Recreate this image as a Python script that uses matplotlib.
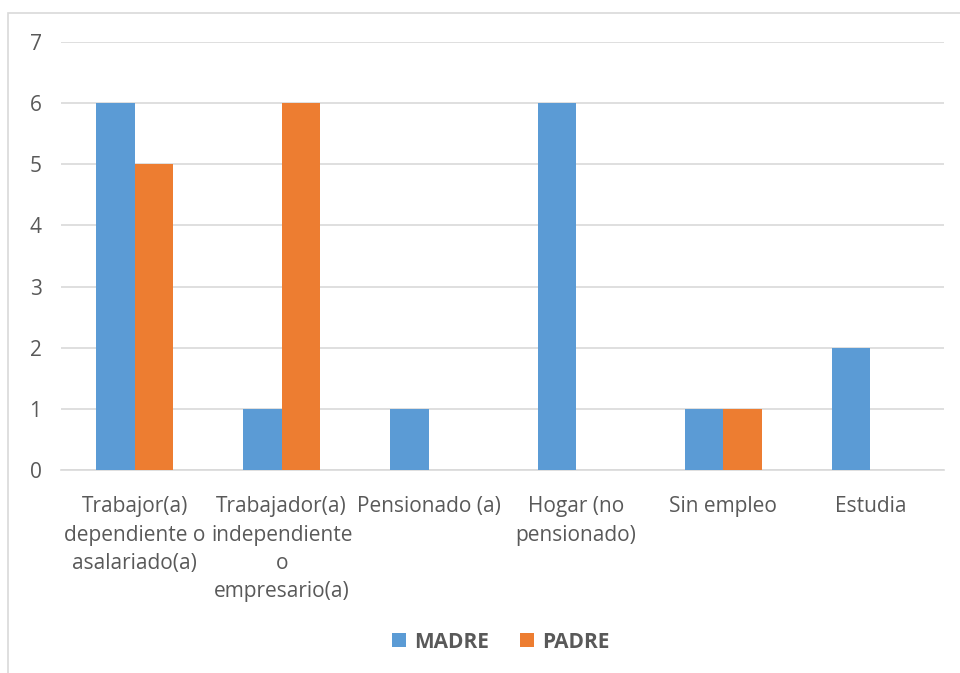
import numpy as np
import matplotlib.pyplot as plt
from matplotlib.patches import Rectangle

plt.rcParams['font.family'] = ['Open Sans', 'DejaVu Sans']

# data
categories = ["Trabajor(a)\ndependiente o\nasalariado(a)",
              "Trabajador(a)\nindependiente\no\nempresario(a)",
              "Pensionado (a)",
              "Hogar (no\npensionado)",
              "Sin empleo",
              "Estudia"]
madre = [6, 1, 1, 6, 1, 2]
padre = [5, 6, 0, 0, 1, 0]
yticks = [0, 1, 2, 3, 4, 5, 6, 7]

blue = '#5B9BD5'
orange = '#ED7D31'
txt = '#595959'
grid = '#D9D9D9'

fig = plt.figure(figsize=(9.6, 6.73), dpi=100)
fig.patches.append(Rectangle((8/960, -0.5), 1.5, 0.5 + 1 - 13/673,
                             transform=fig.transFigure, fill=False,
                             edgecolor=grid, lw=1.2))
ax = fig.add_axes([61/960, 1 - 470/673, (944 - 61)/960, (470 - 42)/673])

x = np.arange(len(categories))
w = 0.262
ax.bar(x - w/2, madre, w, color=blue, label='MADRE', zorder=3)
ax.bar(x + w/2, padre, w, color=orange, label='PADRE', zorder=3)

ax.set_xlim(-0.5, len(categories) - 0.5)
ax.set_ylim(0, 7)
ax.set_yticks(yticks)
ax.set_xticks(x)
ax.set_xticklabels(categories, fontsize=15, color=txt, linespacing=1.45)
ax.tick_params(axis='y', labelsize=15, labelcolor=txt, length=0, pad=14)
ax.tick_params(axis='x', length=0, pad=19)
ax.yaxis.grid(True, color=grid, lw=1.2, zorder=0)
for s in ['top', 'right', 'left']:
    ax.spines[s].set_visible(False)
ax.spines['bottom'].set_color(grid)
ax.spines['bottom'].set_linewidth(1.2)

leg = fig.legend(loc='center', bbox_to_anchor=(501/960, 1 - 642/673), ncol=2,
                 frameon=False, handlelength=0.65, handleheight=0.65,
                 handletextpad=0.4, columnspacing=1.5,
                 prop={'size': 15, 'weight': 'bold'})
for t in leg.get_texts():
    t.set_color(txt)

fig.savefig('out.png', dpi=100)
